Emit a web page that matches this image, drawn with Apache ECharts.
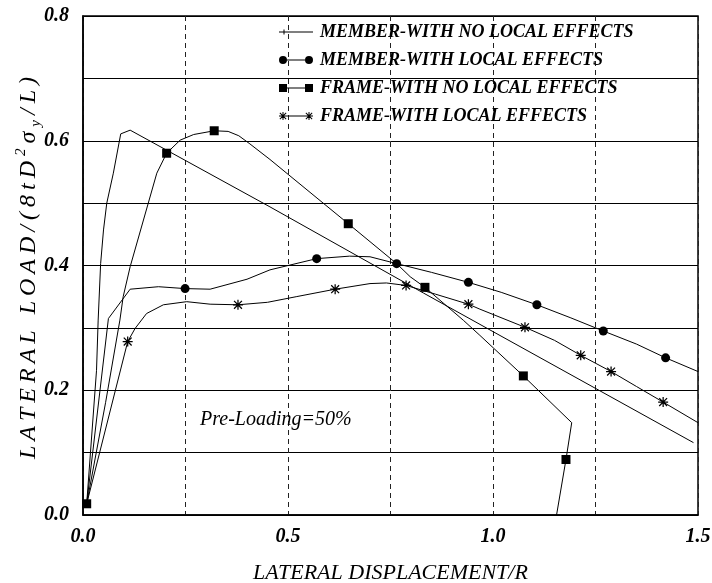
<!DOCTYPE html>
<html>
<head>
<meta charset="utf-8">
<script src="https://cdn.jsdelivr.net/npm/echarts@6/dist/echarts.min.js"></script>
<style>
html,body{margin:0;padding:0;background:#fff;}
#chart{width:712px;height:583px;}
</style>
</head>
<body>
<div id="chart"></div>
<script>
// ---- Data (x = lateral displacement / R, y = lateral load ratio, 3rd = marker drawn) ----
var seriesNames = [
  'MEMBER-WITH NO LOCAL EFFECTS',
  'MEMBER-WITH LOCAL EFFECTS',
  'FRAME-WITH NO LOCAL EFFECTS',
  'FRAME-WITH LOCAL EFFECTS'
];
var memberNoLocal = [
  [0.009,0.018,0],[0.033,0.232,0],[0.037,0.3125,0],[0.043,0.403,0],[0.050,0.457,0],
  [0.058,0.500,0],[0.074,0.548,0],[0.092,0.611,0],[0.115,0.617,0],[0.456,0.494,0],
  [0.830,0.356,0],[1.000,0.294,0],[1.250,0.203,0],[1.489,0.116,0]
];
var memberLocal = [
  [0.009,0.018,0],[0.062,0.315,0],[0.115,0.362,0],[0.184,0.366,0],[0.249,0.363,1],
  [0.310,0.362,0],[0.400,0.378,0],[0.456,0.393,0],[0.570,0.411,1],[0.650,0.415,0],
  [0.700,0.414,0],[0.765,0.403,1],[0.850,0.389,0],[0.940,0.373,1],[1.020,0.357,0],
  [1.107,0.337,1],[1.190,0.316,0],[1.269,0.295,1],[1.350,0.274,0],[1.421,0.252,1],
  [1.500,0.230,0]
];
var frameNoLocal = [
  [0.009,0.018,1],[0.055,0.180,0],[0.090,0.3125,0],[0.098,0.350,0],[0.115,0.398,0],
  [0.180,0.548,0],[0.204,0.580,1],[0.237,0.601,0],[0.270,0.610,0],[0.320,0.616,1],
  [0.354,0.615,0],[0.380,0.608,0],[0.407,0.595,0],[0.456,0.570,0],[0.647,0.467,1],
  [0.765,0.403,0],[0.798,0.382,0],[0.834,0.365,1],[0.928,0.312,0],[0.968,0.288,0],
  [1.074,0.223,1],[1.192,0.148,0],[1.178,0.089,1],[1.155,0.000,0]
];
var frameLocal = [
  [0.009,0.018,0],[0.109,0.278,1],[0.127,0.299,0],[0.155,0.323,0],[0.196,0.337,0],
  [0.253,0.342,0],[0.310,0.338,0],[0.378,0.337,1],[0.450,0.341,0],[0.520,0.350,0],
  [0.615,0.362,1],[0.700,0.371,0],[0.740,0.372,0],[0.788,0.368,1],[0.860,0.354,0],
  [0.940,0.338,1],[0.968,0.330,0],[1.078,0.301,1],[1.150,0.280,0],[1.214,0.256,1],
  [1.288,0.230,1],[1.350,0.206,0],[1.415,0.181,1],[1.500,0.148,0]
];
var xTicks = [0.0, 0.5, 1.0, 1.5];
var yTicks = [0.0, 0.2, 0.4, 0.6, 0.8];
var xTitle = 'LATERAL DISPLACEMENT/R';
var yTitleParts = [['LATERAL LOAD/(8tD', 's'], ['2', 'sup'], ['σ', 's'], ['y', 'sub'], ['/L)', 's']];
var annotation = 'Pre-Loading=50%';

// ---- Symbols ----
var starPath = 'path://M0,3.5L8,3.5L8,4.5L0,4.5Z M3.5,0L4.5,0L4.5,8L3.5,8Z M0.5,1.2L1.2,0.5L7.5,6.8L6.8,7.5Z M0.5,6.8L6.8,0.5L7.5,1.2L1.2,7.5Z';
var markerSymbols = ['none', 'circle', 'rect', starPath];
var markerSizes = [0, 9, 9, 10];
var legendIcons = [
  'path://M0,3.6L34,3.6L34,4.4L0,4.4Z M4.5,1.5L5.5,1.5L5.5,6.5L4.5,6.5Z M0,0L0.01,0L0.01,8L0,8Z',
  'path://M0,4A4,4 0 1,1 8,4A4,4 0 1,1 0,4Z M8,3.5L26,3.5L26,4.5L8,4.5Z M26,4A4,4 0 1,1 34,4A4,4 0 1,1 26,4Z',
  'path://M0,0L8,0L8,8L0,8Z M8,3.5L26,3.5L26,4.5L8,4.5Z M26,0L34,0L34,8L26,8Z',
  'path://M0,3.5L8,3.5L8,4.5L0,4.5Z M3.5,0L4.5,0L4.5,8L3.5,8Z M0.5,1.2L1.2,0.5L7.5,6.8L6.8,7.5Z M0.5,6.8L6.8,0.5L7.5,1.2L1.2,7.5Z M8,3.5L26,3.5L26,4.5L8,4.5Z M26,3.5L34,3.5L34,4.5L26,4.5Z M29.5,0L30.5,0L30.5,8L29.5,8Z M26.5,1.2L27.2,0.5L33.5,6.8L32.8,7.5Z M26.5,6.8L32.8,0.5L33.5,1.2L27.2,7.5Z'
];
var allData = [memberNoLocal, memberLocal, frameNoLocal, frameLocal];

var FONT = 'Liberation Serif';

// letter-spaced rich title: each character is its own rich token
function spacedRich(parts) {
  var out = '';
  parts.forEach(function (p) {
    Array.from(p[0]).forEach(function (ch) { out += '{' + p[1] + '|' + ch + '}'; });
  });
  return out;
}

function buildSeries(i) {
  return {
    name: seriesNames[i],
    type: 'line',
    data: allData[i].map(function (p) {
      return {
        value: [p[0], p[1]],
        symbol: p[2] ? markerSymbols[i] : 'none',
        symbolSize: markerSizes[i]
      };
    }),
    showSymbol: true,
    symbolKeepAspect: true,
    lineStyle: { color: '#000', width: 1 },
    itemStyle: { color: '#000', borderColor: '#000', borderWidth: 0 },
    emphasis: { disabled: true },
    animation: false,
    z: 3
  };
}

var chart = echarts.init(document.getElementById('chart'), null, { renderer: 'canvas' });
var labelStyle = { fontFamily: FONT, fontStyle: 'italic', fontWeight: 'bold', fontSize: 20, color: '#000' };
var SP = 5;

chart.setOption({
  animation: false,
  backgroundColor: '#fff',
  textStyle: { fontFamily: FONT, color: '#000' },
  grid: { left: 83, right: 14, top: 16, bottom: 68, show: true, borderColor: '#000', borderWidth: 1.5,
          containLabel: false, outerBoundsMode: 'none' },
  legend: {
    left: 274, top: 18, padding: 5, orient: 'vertical', itemWidth: 34, itemHeight: 8, itemGap: 10,
    data: seriesNames.map(function (n, i) { return { name: n, icon: legendIcons[i] }; }),
    textStyle: { fontFamily: FONT, fontStyle: 'italic', fontWeight: 'bold', fontSize: 18, color: '#000', padding: [0,0,0,2] },
    itemStyle: { color: '#000', borderWidth: 0 },
    lineStyle: { width: 0 },
    selectedMode: false
  },
  xAxis: {
    type: 'value', min: 0, max: 1.5, interval: 0.25,
    name: xTitle, nameLocation: 'middle', nameGap: 47, nameMoveOverlap: false,
    nameTextStyle: { fontFamily: FONT, fontStyle: 'italic', fontWeight: 'normal', fontSize: 22, color: '#000' },
    axisLine: { show: true, lineStyle: { color: '#000', width: 1.5 } },
    axisTick: { show: false },
    axisLabel: Object.assign({}, labelStyle, {
      margin: 12,
      formatter: function (v) {
        for (var k = 0; k < xTicks.length; k++) if (Math.abs(xTicks[k] - v) < 1e-6) return xTicks[k].toFixed(1);
        return '';
      }
    }),
    splitLine: { show: true, lineStyle: { color: '#222', width: 1, type: [5, 4] } }
  },
  yAxis: {
    type: 'value', min: 0, max: 0.8, interval: 0.1,
    name: spacedRich(yTitleParts), nameLocation: 'middle', nameGap: 39, nameMoveOverlap: false,
    nameTextStyle: {
      fontFamily: FONT, fontStyle: 'italic', fontWeight: 'normal', fontSize: 24, color: '#000', lineHeight: 30,
      rich: {
        s: { fontFamily: FONT, fontStyle: 'italic', fontSize: 24, lineHeight: 30, verticalAlign: 'middle', padding: [0, SP, 0, 0] },
        sup: { fontFamily: FONT, fontStyle: 'italic', fontSize: 15, lineHeight: 15, verticalAlign: 'top', padding: [0, SP, 0, 0] },
        sub: { fontFamily: FONT, fontStyle: 'italic', fontSize: 15, lineHeight: 15, verticalAlign: 'bottom', padding: [0, SP, 0, 0] }
      }
    },
    axisLine: { show: true, lineStyle: { color: '#000', width: 1.5 } },
    axisTick: { show: false },
    axisLabel: Object.assign({}, labelStyle, {
      margin: 14,
      formatter: function (v) {
        for (var k = 0; k < yTicks.length; k++) if (Math.abs(yTicks[k] - v) < 1e-6) return yTicks[k].toFixed(1);
        return '';
      }
    }),
    splitLine: { show: true, lineStyle: { color: '#000', width: 1 } }
  },
  graphic: [{
    type: 'text', left: 200, top: 410, z: 10,
    style: { text: annotation, font: 'italic 20px "Liberation Serif"', fill: '#000' }
  }],
  series: [0, 1, 2, 3].map(buildSeries)
});
</script>
</body>
</html>
